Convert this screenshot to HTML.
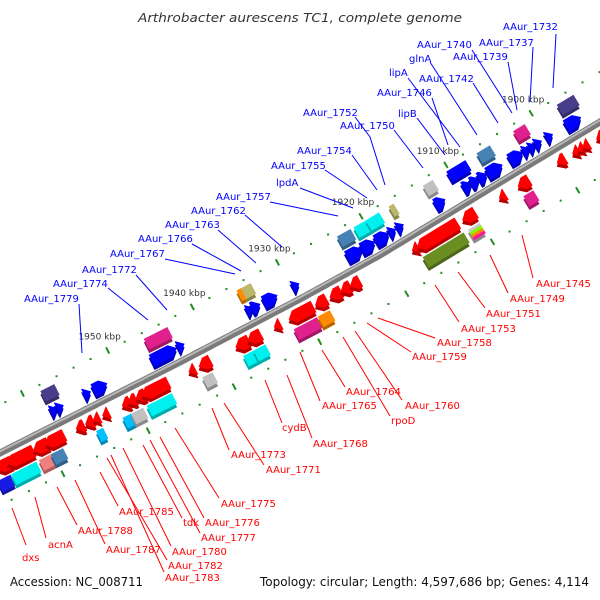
<!DOCTYPE html>
<html><head><meta charset="utf-8"><style>
html,body{margin:0;padding:0;background:#fff;}
svg{display:block;font-family:"DejaVu Sans","Liberation Sans",sans-serif;}
</style></head><body>
<svg id="chart" width="600" height="600" viewBox="0 0 600 600" xmlns="http://www.w3.org/2000/svg">
<text x="300" y="22" text-anchor="middle" font-size="12.5" font-style="italic" fill="#333" textLength="324" lengthAdjust="spacingAndGlyphs">Arthrobacter aurescens TC1, complete genome</text>
<g id="backbone-g"></g>
<g id="ticks-g"></g>
<g id="genes-g"></g>
<g id="labels-g"></g>
<text x="10" y="586" font-size="12" fill="#111" textLength="133" lengthAdjust="spacingAndGlyphs">Accession: NC_008711</text>
<text x="260" y="586" font-size="12" fill="#111" textLength="329" lengthAdjust="spacingAndGlyphs">Topology: circular; Length: 4,597,686 bp; Genes: 4,114</text>
</svg>
<script>
// ---- data (positions in kbp) ----
const geneKbp = [1965.7,1965.1,1963.2,1963.4,1960.8,1960.9,1959.5,1959.2,1957.4,1957.8,1957.1,1956.2,1955.1,1954.3,1953.2,1954.5,1953.9,1952.4,1951.3,1950.1,1950.8,1950.1,1949.1,1947.4,1947.5,1944.7,1944.9,1942.9,1943.1,1941.6,1941.9,1937.2,1935.8,1937.0,1935.8,1934.2,1934.9,1934.8,1934.1,1932.4,1933.1,1930.3,1930.4,1928.3,1928.0,1926.3,1925.1,1924.0,1929.4,1922.5,1920.5,1919.0,1922.5,1920.9,1919.2,1918.0,1917.1,1916.8,1917.0,1914.4,1914.4,1912.5,1912.4,1910.7,1910.8,1909.2,1909.2,1908.3,1907.4,1906.8,1906.0,1906.0,1904.3,1904.4,1903.5,1902.3,1901.6,1900.9,1901.8,1899.9,1899.6,1898.2,1897.6,1897.0,1896.4,1896.8,1895.1];
const geneLen = [1.5,1.8,3.1,2.9,1.8,1.4,1.4,2.3,1.6,0.8,0.8,1.0,1.0,0.8,0.8,0.8,0.8,1.6,1.0,1.4,1.0,1.0,1.2,3.1,2.9,2.7,2.9,0.8,0.8,1.4,1.2,1.6,1.6,1.4,1.4,1.4,0.5,0.8,1.0,1.6,0.8,2.9,2.7,1.4,1.4,1.4,1.2,1.2,0.8,1.6,1.6,1.6,1.8,1.6,1.6,0.8,0.8,0.6,0.8,4.9,4.9,1.2,1.2,1.6,1.4,2.3,1.0,1.0,1.0,0.8,1.6,1.8,1.4,1.2,1.6,0.8,0.8,0.8,1.4,1.0,0.8,0.8,0.8,0.8,2.0,1.8,1.4];
const geneRow = ['R2','R1','R1','R2','R1','R2','R2','R1','B2','B1','B1','R1','R1','R1','R1','R2','B1','B1','R2','R2','R1','R1','R1','R1','R2','B2','B1','B1','R1','R1','R2','R1','R1','R2','R2','B2','B2','B1','B1','B1','R1','R1','R2','R2','R1','R1','R1','R1','B1','B2','B2','B2','B1','B1','B1','B1','B1','B2','R1','R1','R2','B2','B1','R1','R2','B2','B1','B1','B1','R1','B2','B1','R1','R2','B1','B1','B1','B1','B2','R1','B1','R1','R1','R1','B2','B1','R1'];
const geneColor = ['#1a1ae6','#ff0000','#ff0000','#00f0f0','#ff0000','#f08080','#4682b4','#ff0000','#483d8b','#0000ff','#0000ff','#ff0000','#ff0000','#ff0000','#ff0000','#00bfff','#0000ff','#0000ff','#00bfff','#c0c0c0','#ff0000','#ff0000','#ff0000','#ff0000','#00f0f0','#e0208c','#0000ff','#0000ff','#ff0000','#ff0000','#c0c0c0','#ff0000','#ff0000','#00f0f0','#00f0f0','#bdb76b','#ff8c00','#0000ff','#0000ff','#0000ff','#ff0000','#ff0000','#e0208c','#ff8c00','#ff0000','#ff0000','#ff0000','#ff0000','#0000ff','#4682b4','#00f0f0','#00f0f0','#0000ff','#0000ff','#0000ff','#0000ff','#0000ff','#bdb76b','#ff0000','#ff0000','#6b8e23','#c0c0c0','#0000ff','#ff0000','stripes','#0000ff','#0000ff','#0000ff','#0000ff','#ff0000','#4682b4','#0000ff','#ff0000','#e0208c','#0000ff','#0000ff','#0000ff','#0000ff','#e0208c','#ff0000','#0000ff','#ff0000','#ff0000','#ff0000','#483d8b','#0000ff','#ff0000'];
const tickStart = 1890, tickEnd = 1966, tickStep = 2;
const majorTicks = [1900,1910,1920,1930,1940,1950,1960];
const majorLabels = ['1900 kbp','1910 kbp','1920 kbp','1930 kbp','1940 kbp','1950 kbp',''];

// callouts: text, text x, baseline y, line points
const blueLabels = ['AAur_1732','AAur_1737','AAur_1739','AAur_1740','glnA','lipA','AAur_1742','AAur_1746','lipB','AAur_1750','AAur_1752','AAur_1754','AAur_1755','lpdA','AAur_1757','AAur_1762','AAur_1763','AAur_1766','AAur_1767','AAur_1772','AAur_1774','AAur_1779'];
const blueTx = [503,479,453,417,409,389,419,377,398,340,303,297,271,276,216,191,165,138,110,82,53,24];
const blueTy = [30,46,60,48,62,76,82,96,117,129,116,154,169,186,200,214,228,242,257,273,287,302];
const blueLines = [[556,34,553,88],[533,47,530,102],[508,62,517,110],[472,50,512,113],[430,62,477,135],[408,78,460,147],[473,83,498,123],[432,98,448,145],[417,118,445,155],[394,130,423,168],[355,117,370,137,385,185],[352,155,377,190],[325,170,367,198],[300,188,353,208],[270,202,338,216],[245,215,282,247],[218,230,256,263],[192,244,241,271],[165,259,235,274],[136,275,167,310],[108,288,148,320],[79,304,82,353]];
const redLabels = ['AAur_1745','AAur_1749','AAur_1751','AAur_1753','AAur_1758','AAur_1759','AAur_1760','rpoD','AAur_1764','AAur_1765','AAur_1768','cydB','AAur_1773','AAur_1771','AAur_1775','AAur_1776','AAur_1777','tdk','AAur_1780','AAur_1782','AAur_1783','AAur_1785','AAur_1787','AAur_1788','acnA','dxs'];
const redTx = [536,510,486,461,437,412,405,391,346,322,313,282,231,266,221,205,201,183,172,168,165,119,106,78,48,22];
const redTy = [287,302,317,332,346,360,409,424,395,409,447,431,458,473,507,526,541,526,555,569,581,515,553,534,548,561];
const redLines = [[533,278,522,235],[508,293,490,255],[485,308,458,272],[459,322,435,285],[435,338,378,318],[411,352,367,323],[402,400,385,375,355,331],[390,416,343,337],[345,387,322,350],[320,401,300,352],[312,438,287,375],[282,423,265,380],[229,450,212,408],[264,465,224,403],[219,498,175,428],[204,518,160,437],[200,533,150,440],[182,518,143,445],[171,546,123,448],[167,560,107,458],[164,572,111,455],[118,506,100,472],[105,544,75,480],[77,525,57,487],[46,538,35,497],[26,545,12,508]];

// ---- axis functions ----
const BB = [[-20,463],[0,453],[180,362],[300,299],[380,255],[580,134],[600,122],[630,104]];
function Y(x){
  for(let i=0;i<BB.length-1;i++){
    const a=BB[i],b=BB[i+1];
    if(x<=b[0]||i===BB.length-2){const t=(x-a[0])/(b[0]-a[0]);return a[1]+t*(b[1]-a[1]);}
  }
}
function slope(x){return (Y(x+6)-Y(x-6))/12;}
function xOf(k){return (1964.9-k)*9.75*0.8746;}
const rowV = {B1:-14,B2:-31,R1:13,R2:30};
function pt(k,v){
  const x=xOf(k),y=Y(x),s=slope(x),N=Math.sqrt(1+s*s);
  return [x+v*(-s/N), y+v*(1/N), Math.atan(s)*180/Math.PI];
}
function darken(hex,f){
  const n=parseInt(hex.slice(1),16);
  const r=Math.round(((n>>16)&255)*f),g=Math.round(((n>>8)&255)*f),b=Math.round((n&255)*f);
  return 'rgb('+r+','+g+','+b+')';
}
const NS='http://www.w3.org/2000/svg';
function mk(tag,attrs,parent){const e=document.createElementNS(NS,tag);for(const k in attrs)e.setAttribute(k,attrs[k]);parent.appendChild(e);return e;}

// backbone
const bbG=document.getElementById('backbone-g');
let d='';
for(let x=-20;x<=625;x+=5){d+=(x===-20?'M':'L')+x+','+Y(x).toFixed(1)+' ';}
const bbOuter=mk('path',{d:d,stroke:'#7a7a7a','stroke-width':7,fill:'none'},bbG);


let d2='';
for(let x=-20;x<=625;x+=5){const p=pt((1964.9-x/(9.75*0.8746)),-1.5);d2+=(x===-20?'M':'L')+p[0].toFixed(1)+','+p[1].toFixed(1)+' ';}
const bbInner=mk('path',{d:d2,stroke:'#b8b8b8','stroke-width':2,fill:'none'},bbG);



// ticks
const tG=document.getElementById('ticks-g');
for(let k=tickStart;k<=tickEnd;k+=tickStep){
  const major=majorTicks.indexOf(k)>=0;
  [-43,47].forEach(v=>{
    const p=pt(k,v);
    if(major){
      const a=(p[2]+90)*Math.PI/180;
      const l=mk('line',{x1:p[0]-3.5*Math.cos(a),y1:p[1]-3.5*Math.sin(a),x2:p[0]+3.5*Math.cos(a),y2:p[1]+3.5*Math.sin(a),stroke:'#228b22','stroke-width':2},tG);
      
      
    } else {
      const c=mk('rect',{x:p[0]-1,y:p[1]-1,width:2,height:2,fill:'#228b22'},tG);
      
      
    }
  });
}
majorTicks.forEach((k,i)=>{
  if(!majorLabels[i])return;
  const p=pt(k,-43);
  const t=mk('text',{x:p[0]-8,y:p[1]-11,'font-size':9,fill:'#333','text-anchor':'middle'},tG);
  t.textContent=majorLabels[i];
  
  
});

// genes
const gG=document.getElementById('genes-g');
function shapePts(w,h,dir,arrow){
  const hw=w/2,hh=h/2;
  if(!arrow) return [[-hw,-hh],[hw,-hh],[hw,hh],[-hw,hh]];
  const hd=Math.min(w,7);
  let p=[[-hw,-hh],[hw-hd,-hh],[hw,0],[hw-hd,hh],[-hw,hh]];
  if(hd>=w) p=[[-hw,-hh],[hw,0],[-hw,hh]];
  if(dir<0) p=p.map(q=>[-q[0],q[1]]);
  return p;
}
for(let i=0;i<geneKbp.length;i++){
  const row=geneRow[i], v=rowV[row];
  const p=pt(geneKbp[i],v);
  const w=geneLen[i]*9.75, h=row[1]==='1'?13:12;
  const arrow=row[1]==='1';
  const dir=row[0]==='B'?1:-1;
  const pts=shapePts(w,h,dir,arrow).map(q=>q[0].toFixed(1)+','+q[1].toFixed(1)).join(' ');
  const g=mk('g',{},gG);
  
  
  const col=geneColor[i];
  const base=col==='stripes'?'#c0c0c0':col;
  mk('polygon',{points:pts,fill:darken(base,0.72),transform:'translate('+p[0].toFixed(1)+','+(p[1]+3.5).toFixed(1)+') rotate('+p[2].toFixed(1)+')'},g);
  if(col==='stripes'){
    const sc=['#c8c8c8','#7cfc00','#ff8c00','#ff1493'];
    const sg=mk('g',{transform:'translate('+p[0].toFixed(1)+','+p[1].toFixed(1)+') rotate('+p[2].toFixed(1)+')'},g);
    sc.forEach((c,j)=>mk('rect',{x:-w/2,y:-h/2+j*h/4,width:w,height:h/4,fill:c},sg));
  } else {
    mk('polygon',{points:pts,fill:base,transform:'translate('+p[0].toFixed(1)+','+p[1].toFixed(1)+') rotate('+p[2].toFixed(1)+')'},g);
  }
}

// labels
const lG=document.getElementById('labels-g');
function drawLabels(texts,tx,ty,lines,color,nm){
  texts.forEach((s,i)=>{
    const L=lines[i];let dd='M'+L[0]+','+L[1];
    for(let j=2;j<L.length;j+=2)dd+=' L'+L[j]+','+L[j+1];
    const pl=mk('path',{d:dd,stroke:color,'stroke-width':1,fill:'none'},lG);
    
    
    const t=mk('text',{x:tx[i],y:ty[i],'font-size':10,fill:color},lG);
    t.textContent=s;
    
    
  });
}
drawLabels(blueLabels,blueTx,blueTy,blueLines,'#0000ff','forward-gene');
drawLabels(redLabels,redTx,redTy,redLines,'#ff0000','reverse-gene');
</script>
</body></html>
